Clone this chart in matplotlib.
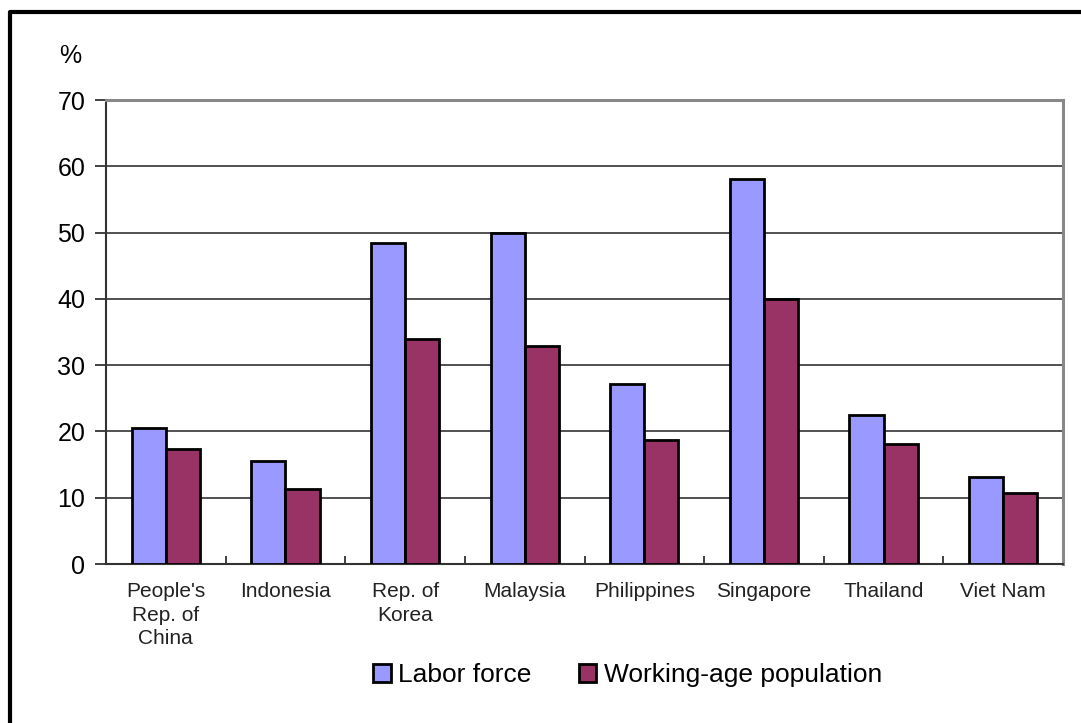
import numpy as np
import matplotlib.pyplot as plt
from matplotlib.lines import Line2D

plt.rcParams['font.family'] = ['Liberation Sans', 'DejaVu Sans']

countries = ["People's\nRep. of\nChina", "Indonesia", "Rep. of\nKorea", "Malaysia",
             "Philippines", "Singapore", "Thailand", "Viet Nam"]
labor_force = [20.5, 15.5, 48.4, 49.9, 27.2, 58.1, 22.5, 13.1]
working_age = [17.3, 11.3, 33.9, 32.9, 18.7, 40.0, 18.1, 10.7]
yticks = [0, 10, 20, 30, 40, 50, 60, 70]

W, H = 1081, 723
fig = plt.figure(figsize=(W / 100, H / 100), dpi=100)
ax = fig.add_axes([106 / W, 1 - 564 / H, (1063 - 106) / W, (564 - 100) / H])

x = np.arange(len(countries))
bw = 0.285
ax.bar(x - bw / 2, labor_force, bw, color='#9999ff', edgecolor='black', linewidth=2,
       label='Labor force', zorder=3)
ax.bar(x + bw / 2, working_age, bw, color='#993366', edgecolor='black', linewidth=2,
       label='Working-age population', zorder=3)

ax.set_xlim(-0.5, len(countries) - 0.5)
ax.set_ylim(0, 70)
ax.set_yticks(yticks)
ax.set_yticklabels([str(t) for t in yticks], fontsize=18)
ax.yaxis.grid(True, color='#333333', linewidth=1.2, zorder=0)

ax.set_xticks(x)
ax.set_xticklabels(countries, fontsize=15, color='#222222', linespacing=1.3)
ax.tick_params(axis='x', length=0, pad=13)
ax.set_xticks(np.arange(len(countries) + 1) - 0.5, minor=True)
ax.tick_params(axis='x', which='minor', direction='in', length=6, width=1.3, color='#333333')
ax.tick_params(axis='y', direction='out', length=8, width=1.3, color='#333333', pad=7)

for s in ['top', 'right']:
    ax.spines[s].set_color('#888888')
    ax.spines[s].set_linewidth(2.2)
ax.spines['left'].set_color('#333333')
ax.spines['left'].set_linewidth(1.5)
ax.spines['bottom'].set_color('#333333')
ax.spines['bottom'].set_linewidth(1.5)

fig.text(70 / W, 1 - 56 / H, '%', fontsize=18, ha='center', va='center')

ax.legend(loc='center', bbox_to_anchor=((628 - 106) / (1063 - 106), 1 - (675 - 100) / (564 - 100)),
          ncol=2, frameon=False, fontsize=19, handlelength=0.65, handleheight=0.65,
          handletextpad=0.3, columnspacing=1.8)

# outer frame (left and top edges)
fig.add_artist(Line2D([10 / W, 10 / W, 1.0], [0.0, 1 - 12 / H, 1 - 12 / H],
                      transform=fig.transFigure, color='black', linewidth=3))

fig.savefig('out.png', dpi=100)
